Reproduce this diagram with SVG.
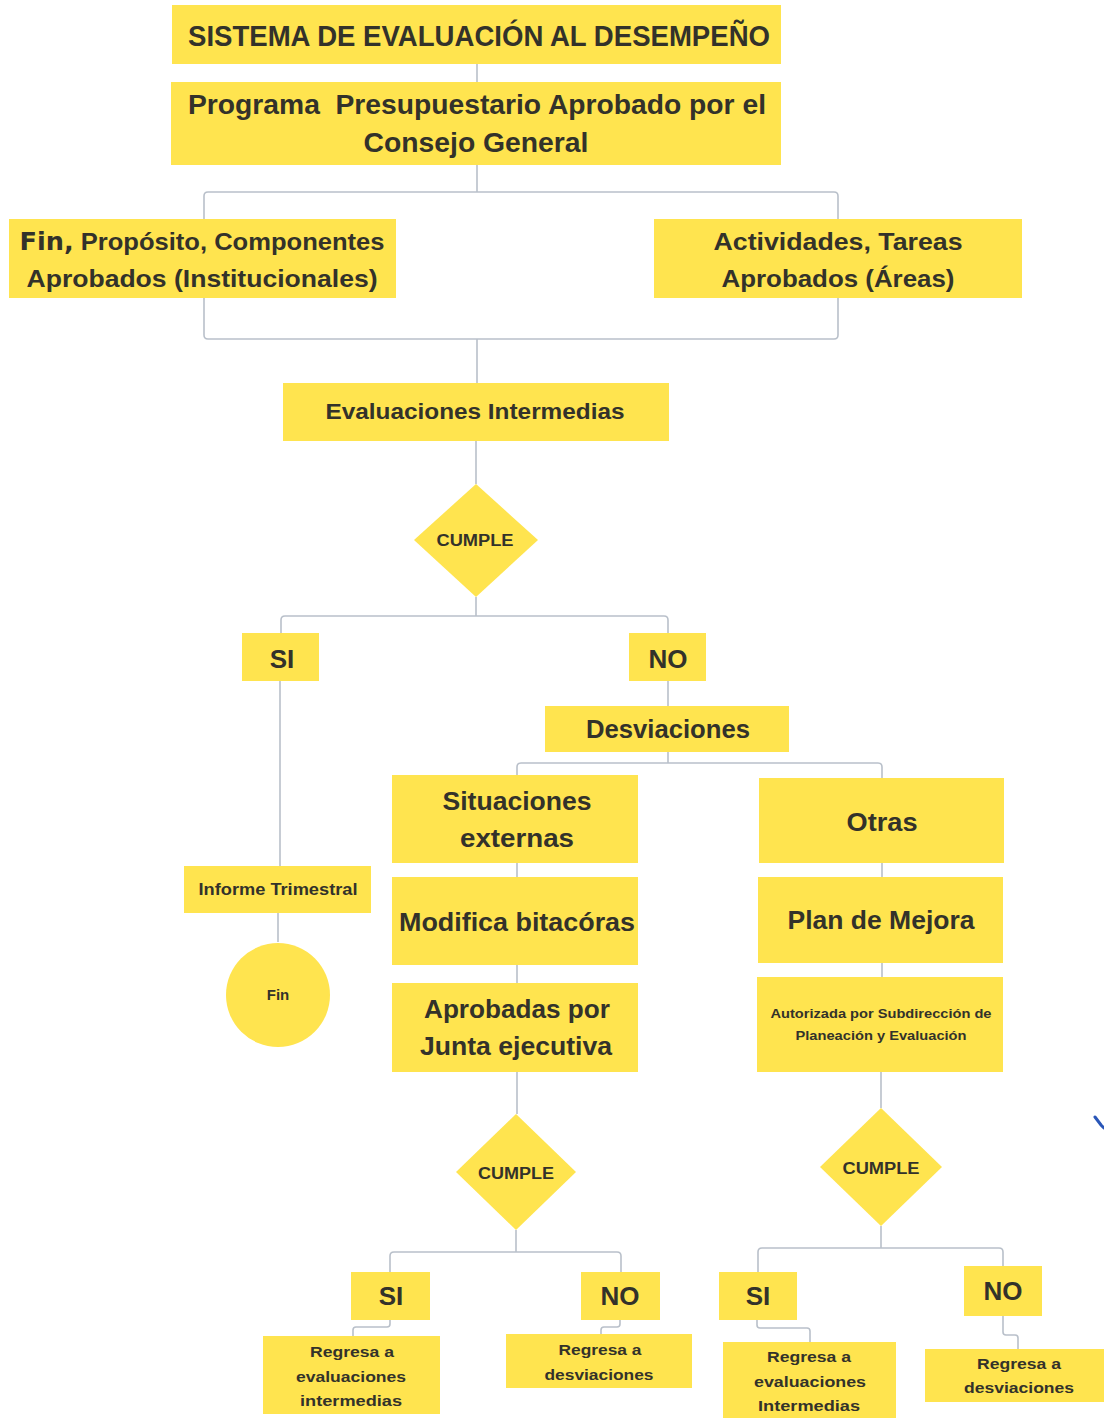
<svg xmlns="http://www.w3.org/2000/svg" width="1104" height="1418" viewBox="0 0 1104 1418">
<style>
.b{fill:#FFE44F}
.t{font-family:"Liberation Sans",Arial,sans-serif;font-weight:bold;fill:#33322a;text-anchor:middle}
.c{fill:none;stroke:#b9c0ca;stroke-width:1.6;stroke-linejoin:round}
</style>
<rect width="1104" height="1418" fill="#ffffff"/>
<g id="connectors">
<path class="c" d="M477 64V82"/>
<path class="c" d="M477 165V192M204 220V196q0-4 4-4H834q4 0 4 4V220"/>
<path class="c" d="M204 298V335q0 4 4 4H834q4 0 4-4V298M477 339V383"/>
<path class="c" d="M476 441V484"/>
<path class="c" d="M476 597V616M281 633V620q0-4 4-4H664q4 0 4 4V633"/>
<path class="c" d="M280 681V866M278 913V942"/>
<path class="c" d="M668 681V706"/>
<path class="c" d="M668 752V763M517 775V767q0-4 4-4H878q4 0 4 4V778"/>
<path class="c" d="M517 863V877M517 965V983M882 863V877M882 963V977"/>
<path class="c" d="M517 1072V1114M516 1230V1252M390 1272V1256q0-4 4-4H617q4 0 4 4V1272"/>
<path class="c" d="M881 1072V1108M881 1226V1248M758 1272V1252q0-4 4-4H999q4 0 4 4V1266"/>
<path class="c" d="M390 1320V1324q0 3-3 3H356q-3 0-3 3V1336"/>
<path class="c" d="M620 1320V1324q0 3-3 3H604q-3 0-3 3V1334"/>
<path class="c" d="M757 1320V1325q0 3 3 3H807q3 0 3 3V1342"/>
<path class="c" d="M1003 1316V1332q0 3 3 3H1015q3 0 3 3V1349"/>
</g>
<g id="n-title"><rect class="b" x="172" y="5" width="609" height="59"/><text class="t" x="479" y="46" font-size="29" textLength="582" lengthAdjust="spacingAndGlyphs">SISTEMA DE EVALUACIÓN AL DESEMPEÑO</text></g>
<g id="n-programa"><rect class="b" x="171" y="82" width="610" height="83"/><text class="t" x="477" y="114" font-size="27" textLength="578" lengthAdjust="spacingAndGlyphs" xml:space="preserve">Programa  Presupuestario Aprobado por el</text><text class="t" x="476" y="152" font-size="27" textLength="225" lengthAdjust="spacingAndGlyphs">Consejo General</text></g>
<g id="n-fin-proposito"><rect class="b" x="9" y="219" width="387" height="79"/><text class="t" x="202" y="250" font-size="24" textLength="365" lengthAdjust="spacingAndGlyphs"><tspan font-family="'DejaVu Sans',sans-serif" font-weight="900">Fin,</tspan> Propósito, Componentes</text><text class="t" x="202" y="287" font-size="24" textLength="351" lengthAdjust="spacingAndGlyphs">Aprobados (Institucionales)</text></g>
<g id="n-actividades"><rect class="b" x="654" y="219" width="368" height="79"/><text class="t" x="838" y="250" font-size="24" textLength="249" lengthAdjust="spacingAndGlyphs">Actividades, Tareas</text><text class="t" x="838" y="287" font-size="24" textLength="233" lengthAdjust="spacingAndGlyphs">Aprobados (Áreas)</text></g>
<g id="n-evaluaciones"><rect class="b" x="283" y="383" width="386" height="58"/><text class="t" x="475" y="419" font-size="22" textLength="299" lengthAdjust="spacingAndGlyphs">Evaluaciones Intermedias</text></g>
<g id="n-cumple1"><polygon class="b" points="476,484 538,540 476,597 414,540"/><text class="t" x="475" y="546" font-size="16" textLength="77" lengthAdjust="spacingAndGlyphs">CUMPLE</text></g>
<g id="n-si1"><rect class="b" x="242" y="633" width="77" height="48"/><text class="t" x="282" y="668" font-size="26">SI</text></g>
<g id="n-no1"><rect class="b" x="629" y="633" width="77" height="48"/><text class="t" x="668" y="668" font-size="26">NO</text></g>
<g id="n-informe"><rect class="b" x="184" y="866" width="187" height="47"/><text class="t" x="278" y="895" font-size="16" textLength="159" lengthAdjust="spacingAndGlyphs">Informe Trimestral</text></g>
<g id="n-fin"><circle class="b" cx="278" cy="995" r="52"/><text class="t" x="278" y="1000" font-size="15">Fin</text></g>
<g id="n-desviaciones"><rect class="b" x="545" y="706" width="244" height="46"/><text class="t" x="668" y="738" font-size="25" textLength="164" lengthAdjust="spacingAndGlyphs">Desviaciones</text></g>
<g id="n-situaciones"><rect class="b" x="392" y="775" width="246" height="88"/><text class="t" x="517" y="810" font-size="25" textLength="149" lengthAdjust="spacingAndGlyphs">Situaciones</text><text class="t" x="517" y="847" font-size="25" textLength="114" lengthAdjust="spacingAndGlyphs">externas</text></g>
<g id="n-modifica"><rect class="b" x="392" y="877" width="246" height="88"/><text class="t" x="517" y="931" font-size="25" textLength="236" lengthAdjust="spacingAndGlyphs">Modifica bitacóras</text></g>
<g id="n-aprobadas"><rect class="b" x="392" y="983" width="246" height="89"/><text class="t" x="517" y="1018" font-size="25" textLength="186" lengthAdjust="spacingAndGlyphs">Aprobadas por</text><text class="t" x="516" y="1055" font-size="25" textLength="192" lengthAdjust="spacingAndGlyphs">Junta ejecutiva</text></g>
<g id="n-otras"><rect class="b" x="759" y="778" width="245" height="85"/><text class="t" x="882" y="831" font-size="25" textLength="71" lengthAdjust="spacingAndGlyphs">Otras</text></g>
<g id="n-plan"><rect class="b" x="758" y="877" width="245" height="86"/><text class="t" x="881" y="929" font-size="25" textLength="187" lengthAdjust="spacingAndGlyphs">Plan de Mejora</text></g>
<g id="n-autorizada"><rect class="b" x="757" y="977" width="246" height="95"/><text class="t" x="881" y="1018" font-size="13" textLength="221" lengthAdjust="spacingAndGlyphs">Autorizada por Subdirección de</text><text class="t" x="881" y="1040" font-size="13" textLength="171" lengthAdjust="spacingAndGlyphs">Planeación y Evaluación</text></g>
<g id="n-cumple2"><polygon class="b" points="516,1114 576,1172 516,1230 456,1172"/><text class="t" x="516" y="1179" font-size="16" textLength="76" lengthAdjust="spacingAndGlyphs">CUMPLE</text></g>
<g id="n-cumple3"><polygon class="b" points="881,1108 942,1167 881,1226 820,1167"/><text class="t" x="881" y="1174" font-size="16" textLength="77" lengthAdjust="spacingAndGlyphs">CUMPLE</text></g>
<g id="n-si2"><rect class="b" x="351" y="1272" width="79" height="48"/><text class="t" x="391" y="1305" font-size="26">SI</text></g>
<g id="n-no2"><rect class="b" x="581" y="1272" width="79" height="48"/><text class="t" x="620" y="1305" font-size="26">NO</text></g>
<g id="n-si3"><rect class="b" x="719" y="1272" width="78" height="48"/><text class="t" x="758" y="1305" font-size="26">SI</text></g>
<g id="n-no3"><rect class="b" x="964" y="1266" width="78" height="50"/><text class="t" x="1003" y="1300" font-size="26">NO</text></g>
<g id="n-regresa1"><rect class="b" x="263" y="1336" width="177" height="78"/><text class="t" x="352" y="1357" font-size="15" textLength="84" lengthAdjust="spacingAndGlyphs">Regresa a</text><text class="t" x="351" y="1382" font-size="15" textLength="110" lengthAdjust="spacingAndGlyphs">evaluaciones</text><text class="t" x="351" y="1406" font-size="15" textLength="102" lengthAdjust="spacingAndGlyphs">intermedias</text></g>
<g id="n-regresa2"><rect class="b" x="506" y="1334" width="186" height="54"/><text class="t" x="600" y="1355" font-size="15" textLength="83" lengthAdjust="spacingAndGlyphs">Regresa a</text><text class="t" x="599" y="1380" font-size="15" textLength="109" lengthAdjust="spacingAndGlyphs">desviaciones</text></g>
<g id="n-regresa3"><rect class="b" x="723" y="1342" width="173" height="76"/><text class="t" x="809" y="1362" font-size="15" textLength="84" lengthAdjust="spacingAndGlyphs">Regresa a</text><text class="t" x="810" y="1387" font-size="15" textLength="112" lengthAdjust="spacingAndGlyphs">evaluaciones</text><text class="t" x="809" y="1411" font-size="15" textLength="102" lengthAdjust="spacingAndGlyphs">Intermedias</text></g>
<g id="n-regresa4"><rect class="b" x="925" y="1349" width="179" height="53"/><text class="t" x="1019" y="1369" font-size="15" textLength="84" lengthAdjust="spacingAndGlyphs">Regresa a</text><text class="t" x="1019" y="1393" font-size="15" textLength="110" lengthAdjust="spacingAndGlyphs">desviaciones</text></g>
<path d="M1095 1117L1101 1125L1104 1128" fill="none" stroke="#2a56b8" stroke-width="3" stroke-linecap="round"/>
</svg>
